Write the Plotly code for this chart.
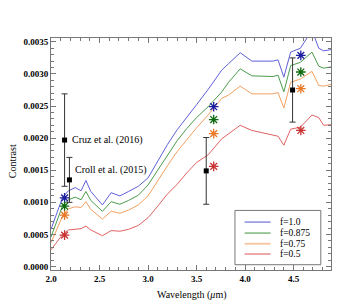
import plotly.graph_objects as go

wavelength = [2.00, 2.12, 2.18, 2.25, 2.31, 2.36, 2.41, 2.53, 2.62, 2.71, 2.80, 2.90,
              3.00, 3.10, 3.20, 3.30, 3.40, 3.50, 3.62, 3.76, 3.83, 3.95, 4.07, 4.29,
              4.34, 4.40, 4.47, 4.57, 4.69, 4.76, 4.81, 4.89]

f_100 = [0.00058, 0.00108, 0.00118, 0.00123, 0.00118, 0.00134, 0.00117, 0.00096, 0.00115,
         0.00110, 0.00117, 0.00125, 0.00138, 0.00165, 0.00190, 0.00213, 0.00232, 0.00252,
         0.00276, 0.00306, 0.00316, 0.00333, 0.00320, 0.00320, 0.00322, 0.00295, 0.00334,
         0.00340, 0.00368, 0.00340, 0.00336, 0.00338]
f_0875 = [0.00046, 0.00095, 0.00104, 0.00108, 0.00104, 0.00117, 0.00103, 0.00086, 0.00101,
          0.00097, 0.00103, 0.00111, 0.00127, 0.00150, 0.00174, 0.00196, 0.00215, 0.00232,
          0.00249, 0.00272, 0.00287, 0.00308, 0.00297, 0.00296, 0.00298, 0.00272, 0.00313,
          0.00318, 0.00334, 0.00312, 0.00309, 0.00311]
f_075 = [0.00037, 0.00079, 0.00090, 0.00093, 0.00092, 0.00101, 0.00089, 0.00074, 0.00086,
         0.00083, 0.00088, 0.00096, 0.00110, 0.00134, 0.00157, 0.00179, 0.00198, 0.00216,
         0.00236, 0.00262, 0.00267, 0.00281, 0.00269, 0.00269, 0.00271, 0.00247, 0.00287,
         0.00292, 0.00304, 0.00282, 0.00281, 0.00284]
f_050 = [0.00026, 0.00050, 0.00057, 0.00058, 0.00059, 0.00063, 0.00057, 0.00048, 0.00056,
         0.00055, 0.00058, 0.00064, 0.00076, 0.00094, 0.00113, 0.00128, 0.00146, 0.00162,
         0.00174, 0.00199, 0.00207, 0.00220, 0.00212, 0.00205, 0.00203, 0.00189, 0.00214,
         0.00217, 0.00236, 0.00232, 0.00220, 0.00221]

series_names = ["f=1.0", "f=0.875", "f=0.75", "f=0.5"]
line_colors = ["#6060d8", "#4c9c4c", "#f4a060", "#e06262"]
star_colors = ["#1c1ca0", "#0e6a0e", "#e87a2a", "#c83434"]

band_wl = [2.14, 3.677, 4.575]
band_f100 = [0.00107, 0.00249, 0.00329]
band_f0875 = [0.00094, 0.00229, 0.00303]
band_f075 = [0.00080, 0.00207, 0.00277]
band_f050 = [0.00049, 0.00156, 0.00212]

obs_wl = [2.14, 2.19, 3.60, 4.49]
obs_val = [0.00197, 0.00135, 0.00149, 0.00275]
obs_err = [0.00072, 0.00035, 0.00052, 0.00050]
obs_labels = ["Cruz et al. (2016)", "Croll et al. (2015)"]

serif = "Liberation Serif"
fig = go.Figure()

for name, ys, col in zip(series_names, [f_100, f_0875, f_075, f_050], line_colors):
    fig.add_trace(go.Scatter(x=wavelength, y=ys, mode="lines", name=name,
                             line=dict(color=col, width=1), showlegend=False))

for ys, col in zip([band_f100, band_f0875, band_f075, band_f050], star_colors):
    fig.add_trace(go.Scatter(x=band_wl, y=ys, mode="markers", showlegend=False,
                             marker=dict(symbol="asterisk-open", size=8, color=col,
                                         line=dict(color=col, width=1.3))))

fig.add_trace(go.Scatter(x=obs_wl, y=obs_val, mode="markers", showlegend=False,
                         marker=dict(symbol="square", size=5, color="black"),
                         error_y=dict(type="data", array=obs_err, color="#333333",
                                      thickness=1, width=3)))

label_shift = [(5, 0), (4, 10)]
for i, lab in enumerate(obs_labels):
    fig.add_annotation(x=obs_wl[i], y=obs_val[i], text=lab, showarrow=False,
                       xanchor="left", yanchor="middle",
                       xshift=label_shift[i][0], yshift=label_shift[i][1],
                       font=dict(family=serif, size=10, color="black"))

# manual legend (compact, like the reference)
fig.add_shape(type="rect", xref="paper", yref="paper", x0=0.657, x1=0.9636,
              y0=0.0228, y1=0.2568, line=dict(color="#777777", width=1),
              fillcolor="white", layer="above")
legend_y = [0.2065, 0.1591, 0.1131, 0.0688]
for name, col, ly in zip(series_names, line_colors, legend_y):
    fig.add_shape(type="line", xref="paper", yref="paper", x0=0.6916, x1=0.7843,
                  y0=ly, y1=ly, line=dict(color=col, width=1.8), opacity=0.6,
                  layer="above")
    fig.add_annotation(xref="paper", yref="paper", x=0.812, y=ly, text=name,
                       showarrow=False, xanchor="left", yanchor="middle",
                       font=dict(family=serif, size=9.5, color="black"))

fig.add_annotation(xref="paper", yref="paper", x=0.5, y=-0.108, text="Wavelength (<i>μ</i>m)",
                   showarrow=False, xanchor="center", yanchor="middle",
                   font=dict(family=serif, size=10, color="black"))
fig.add_annotation(xref="paper", yref="paper", x=-0.135, y=0.47, text="Contrast",
                   showarrow=False, textangle=-90, xanchor="center", yanchor="middle",
                   font=dict(family=serif, size=10, color="black"))

axis_common = dict(showgrid=False, zeroline=False, showline=True, linecolor="#777777",
                   linewidth=1, mirror="allticks", ticks="inside", tickcolor="#777777",
                   ticklen=5, tickwidth=1,
                   tickfont=dict(family=serif, size=9, color="black", weight="bold"))

fig.update_xaxes(range=[2.0, 4.886], dtick=0.5, tick0=2.0, tickformat=".1f",
                 minor=dict(dtick=0.1, ticks="inside", ticklen=3, tickcolor="#777777"),
                 **axis_common)
fig.update_yaxes(range=[-0.000054, 0.00356], dtick=0.0005, tick0=0, tickformat=".4f",
                 minor=dict(dtick=0.0001, ticks="inside", ticklen=3, tickcolor="#777777"),
                 **axis_common)

fig.update_layout(
    width=350, height=300,
    margin=dict(l=43, r=26.5, t=29.5, b=38),
    plot_bgcolor="white", paper_bgcolor="white",
    showlegend=False,
)

fig.write_html("out.html")
